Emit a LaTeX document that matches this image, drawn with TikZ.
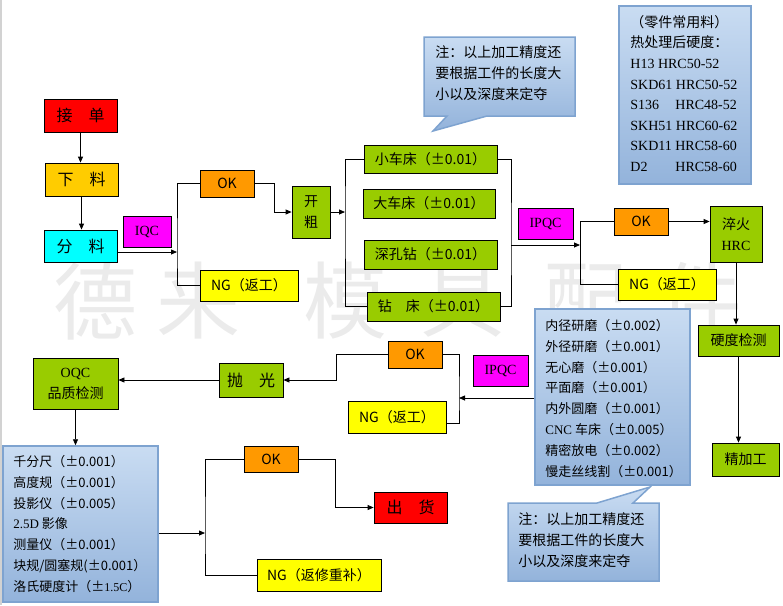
\documentclass[tikz,border=0pt]{standalone}
\usepackage{fontspec}
\setmainfont{Liberation Serif}
\newfontfamily\cjk{Noto Sans CJK SC}
\usetikzlibrary{arrows.meta}
\definecolor{cred}{HTML}{FF0000}
\definecolor{cgold}{HTML}{FFCC00}
\definecolor{ccyan}{HTML}{00FFFF}
\definecolor{cmag}{HTML}{FF00FF}
\definecolor{corg}{HTML}{FF9900}
\definecolor{cyel}{HTML}{FFFF00}
\definecolor{cgrn}{HTML}{99CC00}
\definecolor{ctop}{HTML}{C9DCF2}
\definecolor{cbot}{HTML}{93B3DB}
\definecolor{cbd}{HTML}{7EA3D0}
\newcommand\mk[1]{\makebox[45pt][l]{#1}}
\begin{document}
\begin{tikzpicture}[x=1pt,y=-1pt,line width=.8pt,>={Triangle[length=6pt,width=5pt]},
  bx/.style={draw,inner sep=0pt,align=center,font=\cjk\fontsize{14}{21}\selectfont},
  sz/.style 2 args={minimum width=#1pt,minimum height=#2pt},
  big/.style={font=\cjk\fontsize{16}{16}\selectfont},
  lat/.style={font=\fontsize{14}{21}\selectfont},
  nt/.style={inner sep=0pt,anchor=north west,align=left,font=\cjk\fontsize{13}{20.8}\selectfont},
  cl/.style={draw=cbd,line width=1.5pt,top color=ctop,bottom color=cbot},
  wm/.style={inner sep=0pt,text=gray!16,font=\cjk\fontsize{84}{84}\selectfont}]
\useasboundingbox (0,0) rectangle (783,605);
\draw[gray!35,line width=2pt] (1,0) -- (1,605);
\foreach \c/\x [count=\i] in {德/95,来/198,模/345,具/462,配/585,件/700}
  \node[wm] (w\i) at (\x,301) {\c};

% notes and lists
\shade[cl] (424,37) -- (575,37) -- (575,116) -- (487,116) -- (433,131) -- (447,116) -- (424,116) -- cycle;
\node[nt,font=\cjk\fontsize{14}{21}\selectfont] (note1) at (435,45) {注：以上加工精度还\\要根据工件的长度大\\小以及深度来定夺};
\node[cl,sz={132}{178}] (mat) at (685,95) {};
\node[nt,font=\fontsize{14}{20.6}\selectfont] (matt) at (630,15) {{\cjk （零件常用料）}\\{\cjk 热处理后硬度：}\\H13 HRC50-52\\SKD61 HRC50-52\\\mk{S136}HRC48-52\\SKH51 HRC60-62\\SKD11 HRC58-60\\\mk{D2}HRC58-60};
\node[cl,sz={155}{176}] (gm) at (612.5,397) {};
\node[nt] (gmt) at (545,319) {内径研磨（±0.002）\\外径研磨（±0.001）\\无心磨（±0.001）\\平面磨（±0.001）\\内外圆磨（±0.001）\\{\rmfamily CNC} 车床（±0.005）\\精密放电（±0.002）\\慢走丝线割（±0.001）};
\shade[cl] (508,503) -- (597,503) -- (650,487) -- (633,503) -- (659,503) -- (659,581) -- (508,581) -- cycle;
\node[nt,font=\cjk\fontsize{14}{21}\selectfont] (note2) at (518,512) {注：以上加工精度还\\要根据工件的长度大\\小以及深度来定夺};
\node[cl,sz={155}{156}] (ib) at (80.5,524) {};
\node[nt] (ibt) at (13,455) {千分尺（±0.001）\\高度规（±0.001）\\投影仪（±0.005）\\{\rmfamily 2.5D} 影像\\测量仪（±0.001）\\块规/圆塞规(±0.001）\\洛氏硬度计（±{\rmfamily\fontsize{12}{12}\selectfont 1.5C}）};

% process boxes
\node[bx,big,fill=cred,sz={73}{33}] (jd) at (80.5,115.5) {接\quad 单};
\node[bx,big,fill=cgold,sz={73}{33}] (xl) at (81.5,179.5) {下\quad 料};
\node[bx,big,fill=ccyan,sz={73}{32}] (fl) at (80.5,246) {分\quad 料};
\node[bx,lat,fill=cmag,sz={48}{31}] (iqc) at (147,231.5) {IQC};
\node[bx,fill=corg,sz={54}{27}] (ok1) at (227,183.5) {OK};
\node[bx,fill=cyel,sz={98}{31}] (ng1) at (249,285.5) {NG（返工）};
\node[bx,fill=cgrn,sz={38}{52}] (kc) at (311,212) {开\\粗};
\node[bx,fill=cgrn,sz={133}{28}] (xc) at (430.5,159) {小车床（±0.01）};
\node[bx,fill=cgrn,sz={132}{29}] (dc) at (429,203.5) {大车床（±0.01）};
\node[bx,fill=cgrn,sz={133}{29}] (sk) at (430.5,254.5) {深孔钻（±0.01）};
\node[bx,fill=cgrn,sz={133}{29}] (zc) at (433.5,306.5) {钻\quad 床（±0.01）};
\node[bx,lat,fill=cmag,sz={55}{31}] (ipqc1) at (545.5,223.5) {IPQC};
\node[bx,fill=corg,sz={54}{27}] (ok2) at (641,221.5) {OK};
\node[bx,fill=cyel,sz={98}{31}] (ng2) at (667,284.5) {NG（返工）};
\node[bx,fill=cgrn,sz={52}{56}] (cuo) at (736,234) {淬火\\{\rmfamily HRC}};
\node[bx,fill=cgrn,sz={81}{31}] (yd) at (738.5,340.5) {硬度检测};
\node[bx,fill=cgrn,sz={67}{33}] (jj) at (745.5,459.5) {精加工};
\node[bx,fill=corg,sz={54}{27}] (ok3) at (415,354.5) {OK};
\node[bx,fill=cyel,sz={98}{32}] (ng3) at (397,417) {NG（返工）};
\node[bx,lat,fill=cmag,sz={55}{31}] (ipqc2) at (500.5,370.5) {IPQC};
\node[bx,big,fill=cgrn,sz={64}{34}] (pg) at (251,380) {抛\quad 光};
\node[bx,fill=cgrn,sz={85}{51}] (oqc) at (75.5,383.5) {{\rmfamily OQC}\\品质检测};
\node[bx,fill=corg,sz={54}{26}] (ok4) at (271,459) {OK};
\node[bx,big,fill=cred,sz={73}{31}] (ch) at (410.5,507.5) {出\quad 货};
\node[bx,fill=cyel,sz={124}{32}] (ng4) at (319,575) {NG（返修重补）};

% connectors
\coordinate (j1) at (177,252);
\coordinate (j2) at (345,212);
\coordinate (j3) at (511,245);
\coordinate (j4) at (580,245);
\coordinate (j5) at (459,398);
\coordinate (j6) at (205,533);
\draw[->] (jd.south) -- (jd.south |- xl.north);
\draw[->] (xl.south) -- (xl.south |- fl.north);
\draw[->] (fl.east |- j1) -- (j1);
\draw (ok1.west) -| (j1) |- (ng1.west);
\draw[->] (ok1.east) -- ++(20,0) |- (kc.west);
\draw[->] (kc.east) -- (j2);
\draw (xc.west) -| (j2) |- (zc.west);
\draw (xc.east) -| (j3) |- (zc.east);
\draw[->] (j3) -- (j4);
\draw (ok2.west) -| (j4) |- (ng2.west);
\draw[->] (ok2.east) -- (cuo.west |- ok2.east);
\draw[->] (cuo.south) -- (cuo.south |- yd.north);
\draw[->] (yd.south) -- (yd.south |- jj.north);
\draw[->] (gm.west |- j5) -- (j5);
\draw (ok3.east) -| (j5) |- ([yshift=-6pt]ng3.east);
\draw[->] (ok3.west) -- ++(-51,0) |- (pg.east);
\draw[->] (pg.west) -- (oqc.east |- pg.west);
\draw[->] (oqc.south) -- (oqc.south |- ib.north);
\draw[->] (ib.east |- j6) -- (j6);
\draw (ok4.west) -| (j6) |- (ng4.west);
\draw[->] (ok4.east) -- ++(37,0) |- (ch.west);
\end{tikzpicture}
\end{document}
